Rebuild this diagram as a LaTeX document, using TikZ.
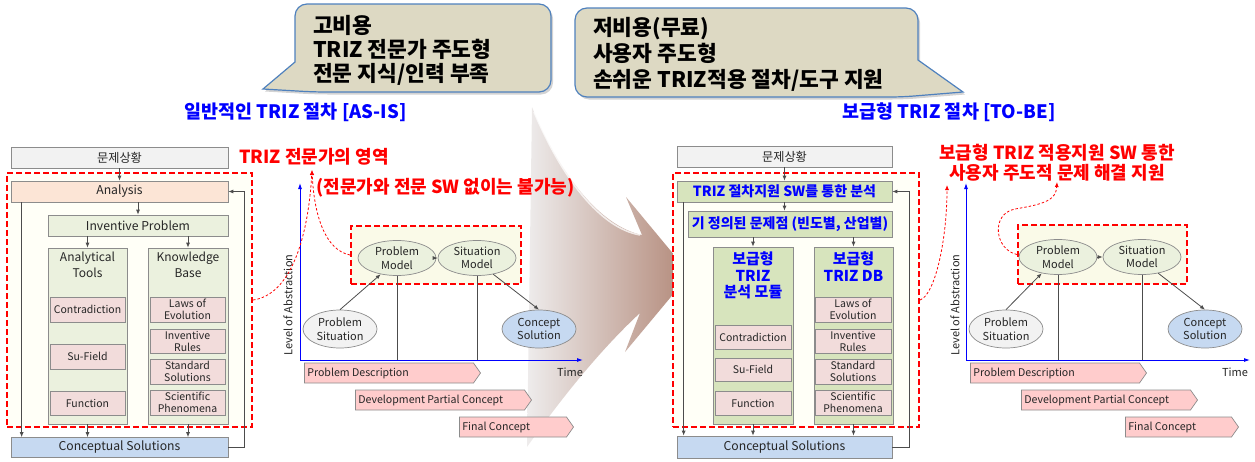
\documentclass[tikz,border=0pt]{standalone}
\usepackage{fontspec}
\setmainfont{Noto Sans CJK KR}
\usetikzlibrary{arrows.meta,shapes.geometric,shapes.symbols,shadows,calc}

\definecolor{linegray}{RGB}{140,140,140}
\definecolor{sitfill}{RGB}{242,242,242}
\definecolor{anafill}{RGB}{252,229,214}
\definecolor{grnfill}{RGB}{235,241,222}
\definecolor{grnfillB}{RGB}{215,228,189}
\definecolor{pinkfill}{RGB}{242,220,219}
\definecolor{bluefill}{RGB}{198,217,241}
\definecolor{pentfill}{RGB}{255,204,204}
\definecolor{creamA}{RGB}{255,255,247}
\definecolor{creamB}{RGB}{250,250,232}
\definecolor{calfill}{RGB}{221,217,195}
\definecolor{calline}{RGB}{79,129,189}
\definecolor{titleblue}{RGB}{0,0,255}
\definecolor{alertred}{RGB}{255,0,0}
\definecolor{arrowbrown}{RGB}{178,136,120}
\definecolor{arrowpale}{RGB}{238,236,236}
\definecolor{txt}{RGB}{38,38,38}

\tikzset{
  box/.style={draw=linegray, line width=0.7pt, inner sep=1pt, text=txt, align=center,
    font=\fontsize{12.2}{14}\selectfont},
  pbox/.style={box, fill=pinkfill, font=\fontsize{10.5}{12}\selectfont},
  coltext/.style={align=center, text=txt, inner sep=0pt, font=\fontsize{12}{16}\selectfont},
  coltextB/.style={align=center, text=titleblue, inner sep=0pt, font=\bfseries\fontsize{15}{16.5}\selectfont},
  boldbox/.style={text=titleblue, font=\bfseries\fontsize{14}{15}\selectfont},
  area/.style={draw=alertred, line width=2pt, dash pattern=on 6pt off 3pt},
  conn/.style={draw=black!70, line width=0.8pt, -{Latex[length=5pt,width=4pt]}},
  plain/.style={draw=black!70, line width=0.8pt},
  ell/.style={ellipse, draw=linegray, line width=0.7pt, inner sep=0pt, align=center, text=txt,
    font=\fontsize{11}{13.5}\selectfont, minimum width=78pt, minimum height=35pt},
  pent/.style={signal, signal to=east, signal pointer angle=110, draw=linegray, line width=0.7pt,
    fill=pentfill, minimum height=20pt, inner sep=0pt},
  penttxt/.style={anchor=west, inner sep=0pt, text=txt, font=\fontsize{10.6}{12}\selectfont},
  axis/.style={draw=titleblue, line width=0.9pt, -{Latex[length=6pt,width=4pt]}},
  hint/.style={draw=alertred, line width=0.8pt, dash pattern=on 2.5pt off 2pt,
    -{Latex[length=5pt,width=4pt]}},
  callout/.style={fill=calfill, draw=calline, line width=1.2pt,
    drop shadow={opacity=0.35, shadow xshift=2pt, shadow yshift=-2.5pt}},
  caltxt/.style={anchor=west, align=left, inner sep=0pt, text=black},
  bluetitle/.style={text=titleblue, font=\bfseries\fontsize{18.5}{20}\selectfont},
  redtitle/.style={text=alertred, align=center, font=\bfseries\fontsize{18}{19.5}\selectfont},
  small/.style={text=txt, inner sep=0pt, font=\fontsize{11}{12}\selectfont}
}

\begin{document}
\begin{tikzpicture}[x=1pt,y=-1pt]
\useasboundingbox (0,0) rectangle (1255,461);

% ---------- transition arrow ----------
\shade[left color=arrowpale, right color=arrowbrown]
  (532,107) .. controls (560,175) and (600,226) .. (642,235)
  -- (626,197) -- (690,274) -- (625,352) -- (640,313)
  .. controls (600,350) and (560,400) .. (527,447) -- cycle;
\draw[white, opacity=0.75, line width=1.5pt]
  (534,112) .. controls (562,178) and (600,228) .. (640,235);

% ---------- callouts ----------
\draw[callout] (263,89) -- (295,62) [rounded corners=12pt] -- (295,4) -- (551,4)
  -- (551,92) -- (314,92) [sharp corners] -- cycle;
\node[caltxt, font=\bfseries\fontsize{21.5}{24}\selectfont] (calL) at (313,50)
  {고비용\\TRIZ 전문가 주도형\\전문 지식/인력 부족};

\draw[callout] (918,60) [rounded corners=12pt] -- (918,8) -- (575,8) -- (575,97)
  -- (902,97) [sharp corners] -- (963,92) -- cycle;
\node[caltxt, font=\bfseries\fontsize{21.5}{26}\selectfont] (calR) at (593,54)
  {저비용(무료)\\사용자 주도형\\손쉬운 TRIZ적용 절차/도구 지원};

\node[bluetitle] (asis) at (295.5,112) {일반적인 TRIZ 절차 [AS-IS]};
\node[bluetitle] (tobe) at (949,112) {보급형 TRIZ 절차 [TO-BE]};

% ---------- AS-IS procedure ----------
\node[area, fill=creamA, minimum width=245pt, minimum height=254pt] (areaL) at (129.5,300) {};
\node[box, fill=sitfill, minimum width=217pt, minimum height=21pt] (sitL) at (119.5,157.5) {문제상황};
\node[box, fill=anafill, minimum width=217pt, minimum height=21pt] (anaL) at (119.5,191.5) {Analysis};
\node[box, fill=grnfill, minimum width=180pt, minimum height=21pt] (invL) at (138,225.5) {Inventive Problem};
\node[box, fill=grnfill, minimum width=79pt, minimum height=176pt] (toolsL) at (87.5,336) {};
\node[box, fill=grnfill, minimum width=80pt, minimum height=176pt] (kbL) at (188,336) {};
\node[coltext, anchor=north] (toolsLh) at ([yshift=-4pt]toolsL.north) {Analytical\\Tools};
\node[coltext, anchor=north] (kbLh) at ([yshift=-4pt]kbL.north) {Knowledge\\Base};
\node[pbox, minimum width=75pt, minimum height=25pt] (contraL) at (87.5,309.5) {Contradiction};
\node[pbox, minimum width=75pt, minimum height=25pt] (sufL) at (87.5,356.5) {Su-Field};
\node[pbox, minimum width=75pt, minimum height=24pt] (funcL) at (87.5,403) {Function};
\node[pbox, minimum width=75pt, minimum height=25pt] (lawsL) at (187.5,309.5) {Laws of\\Evolution};
\node[pbox, minimum width=75pt, minimum height=24pt] (rulesL) at (187.5,341) {Inventive\\Rules};
\node[pbox, minimum width=75pt, minimum height=25pt] (stdL) at (187.5,371.5) {Standard\\Solutions};
\node[pbox, minimum width=75pt, minimum height=25pt] (sciL) at (187.5,402.5) {Scientific\\Phenomena};
\node[box, fill=bluefill, minimum width=217pt, minimum height=20pt] (conL) at (119.5,447.5) {Conceptual Solutions};

\draw[conn] (sitL.south) -- (anaL.north);
\draw[conn] (anaL.south -| invL.north) -- (invL.north);
\draw[conn] (invL.south -| toolsL.north) -- (toolsL.north);
\draw[conn] (invL.south -| kbL.north) -- (kbL.north);
\draw[conn] (toolsL.south) -- (toolsL.south |- conL.north);
\draw[conn] (kbL.south) -- (kbL.south |- conL.north);
\draw[conn] ([xshift=11pt]anaL.south west) -- ([xshift=11pt]conL.north west);
\draw[conn] (conL.east) -- ++(16,0) |- (anaL.east);

\node[redtitle] (zoneL) at (314,157) {TRIZ 전문가의 영역};
\node[redtitle] (noteL) at (445.5,188) {(전문가와 전문 SW 없이는 불가능)};

% ---------- AS-IS chart ----------
\coordinate (ogL) at (300,360);
\coordinate (ytopL) at (300,183);
\coordinate (xendL) at (583,360);
\node[area, fill=creamB, minimum width=170pt, minimum height=58pt] (boxG1) at (436,255) {};
\node[ell, fill=grnfill] (pmL) at (397,258) {Problem\\Model};
\node[ell, fill=grnfill] (smL) at (477,258) {Situation\\Model};
\node[ell, fill=sitfill, minimum width=74pt, minimum height=38pt] (psL) at (340,329) {Problem\\Situation};
\node[ell, fill=bluefill, minimum width=74pt, minimum height=38pt] (csL) at (539,329) {Concept\\Solution};
\draw[plain] (pmL.south) -- (pmL.south |- ogL);
\draw[plain] (smL.south) -- (smL.south |- ogL);
\draw[axis] (ogL) -- (ytopL);
\draw[axis] (ogL) -- (xendL);
\draw[conn] (psL.north) -- (pmL.225);
\draw[conn] (pmL.east) -- (smL.west);
\draw[conn] (smL.-45) -- (csL.north);
\node[small, rotate=90] (absL) at (288,305) {Level of Abstraction};
\node[small] (timeL) at (570,372) {Time};
\node[pent, minimum width=176pt] (pdL) at (389,373) {};
\node[penttxt] at ([xshift=3pt]pdL.west) {Problem Description};
\node[pent, minimum width=176pt] (dpL) at (440,400) {};
\node[penttxt] at ([xshift=3pt]dpL.west) {Development Partial Concept};
\node[pent, minimum width=114pt] (fcL) at (513,427) {};
\node[penttxt] at ([xshift=3pt]fcL.west) {Final Concept};

\draw[hint] (areaL.east) .. controls (290,295) and (308,240) .. (312,170);
\draw[hint] (boxG1.west) .. controls (325,250) and (314,215) .. (312,170);

% ---------- TO-BE procedure ----------
\node[area, fill=creamA, minimum width=246pt, minimum height=254pt] (areaR) at (796,300) {};
\node[box, fill=sitfill, minimum width=215pt, minimum height=21pt] (sitR) at (784.5,156.5) {문제상황};
\node[box, boldbox, fill=grnfillB, minimum width=215pt, minimum height=21pt] (triR) at (784.5,191.5) {TRIZ 절차지원 SW를 통한 분석};
\node[box, boldbox, fill=grnfillB, minimum width=204pt, minimum height=26pt] (defR) at (790,224) {기 정의된 문제점 (빈도별, 산업별)};
\node[box, fill=grnfillB, minimum width=80pt, minimum height=177pt] (modR) at (753,335.5) {};
\node[box, fill=grnfillB, minimum width=79pt, minimum height=177pt] (dbR) at (853.5,335.5) {};
\node[coltextB, anchor=north] (modRh) at ([yshift=-5pt]modR.north) {보급형\\TRIZ\\분석 모듈};
\node[coltextB, anchor=north] (dbRh) at ([yshift=-5pt]dbR.north) {보급형\\TRIZ DB};
\node[pbox, minimum width=76pt, minimum height=24pt] (contraR) at (753,337) {Contradiction};
\node[pbox, minimum width=76pt, minimum height=23pt] (sufR) at (753,369.5) {Su-Field};
\node[pbox, minimum width=76pt, minimum height=24pt] (funcR) at (753,403) {Function};
\node[pbox, minimum width=76pt, minimum height=25pt] (lawsR) at (853,309.5) {Laws of\\Evolution};
\node[pbox, minimum width=76pt, minimum height=24pt] (rulesR) at (853,341) {Inventive\\Rules};
\node[pbox, minimum width=76pt, minimum height=25pt] (stdR) at (853,371.5) {Standard\\Solutions};
\node[pbox, minimum width=76pt, minimum height=25pt] (sciR) at (853,402.5) {Scientific\\Phenomena};
\node[box, fill=bluefill, minimum width=215pt, minimum height=22pt] (conR) at (784.5,447) {Conceptual Solutions};

\draw[conn] (sitR.south) -- (triR.north);
\draw[conn] (triR.south) -- (triR.south |- defR.north);
\draw[conn] (defR.south -| modR.north) -- (modR.north);
\draw[conn] (defR.south -| dbR.north) -- (dbR.north);
\draw[conn] (modR.south) -- (modR.south |- conR.north);
\draw[conn] (dbR.south) -- (dbR.south |- conR.north);
\draw[conn] ([xshift=7pt]triR.south west) -- ([xshift=7pt]conR.north west);
\draw[conn] (conR.east) -- ++(17,0) |- (triR.east);

\node[redtitle] (zoneR) at (1057,162.5) {보급형 TRIZ 적용지원 SW 통한\\사용자 주도적 문제 해결 지원};

% ---------- TO-BE chart ----------
\coordinate (ogR) at (966,360);
\coordinate (ytopR) at (966,183);
\coordinate (xendR) at (1250,360);
\node[area, fill=creamB, minimum width=169pt, minimum height=59pt] (boxG2) at (1102.5,254.5) {};
\node[ell, fill=grnfill] (pmR) at (1058,257) {Problem\\Model};
\node[ell, fill=grnfill] (smR) at (1142,257) {Situation\\Model};
\node[ell, fill=sitfill, minimum width=74pt, minimum height=38pt] (psR) at (1006,329) {Problem\\Situation};
\node[ell, fill=bluefill, minimum width=74pt, minimum height=38pt] (csR) at (1205,329) {Concept\\Solution};
\draw[plain] (pmR.south) -- (pmR.south |- ogR);
\draw[plain] (smR.south) -- (smR.south |- ogR);
\draw[axis] (ogR) -- (ytopR);
\draw[axis] (ogR) -- (xendR);
\draw[conn] (psR.north) -- (pmR.225);
\draw[conn] (pmR.east) -- (smR.west);
\draw[conn] (smR.-45) -- (csR.north);
\node[small, rotate=90] (absR) at (955,305) {Level of Abstraction};
\node[small] (timeR) at (1235,372) {Time};
\node[pent, minimum width=176pt] (pdR) at (1055,373) {};
\node[penttxt] at ([xshift=3pt]pdR.west) {Problem Description};
\node[pent, minimum width=176pt] (dpR) at (1106,400) {};
\node[penttxt] at ([xshift=3pt]dpR.west) {Development Partial Concept};
\node[pent, minimum width=113pt] (fcR) at (1178.5,427) {};
\node[penttxt] at ([xshift=3pt]fcR.west) {Final Concept};

\draw[hint] (areaR.east) .. controls (935,295) and (947,240) .. (947,185);
\draw[hint] (boxG2.west) .. controls (995,250) and (990,214) .. (1015,209)
  .. controls (1045,204) and (1056,200) .. (1057,182);

\end{tikzpicture}
\end{document}
